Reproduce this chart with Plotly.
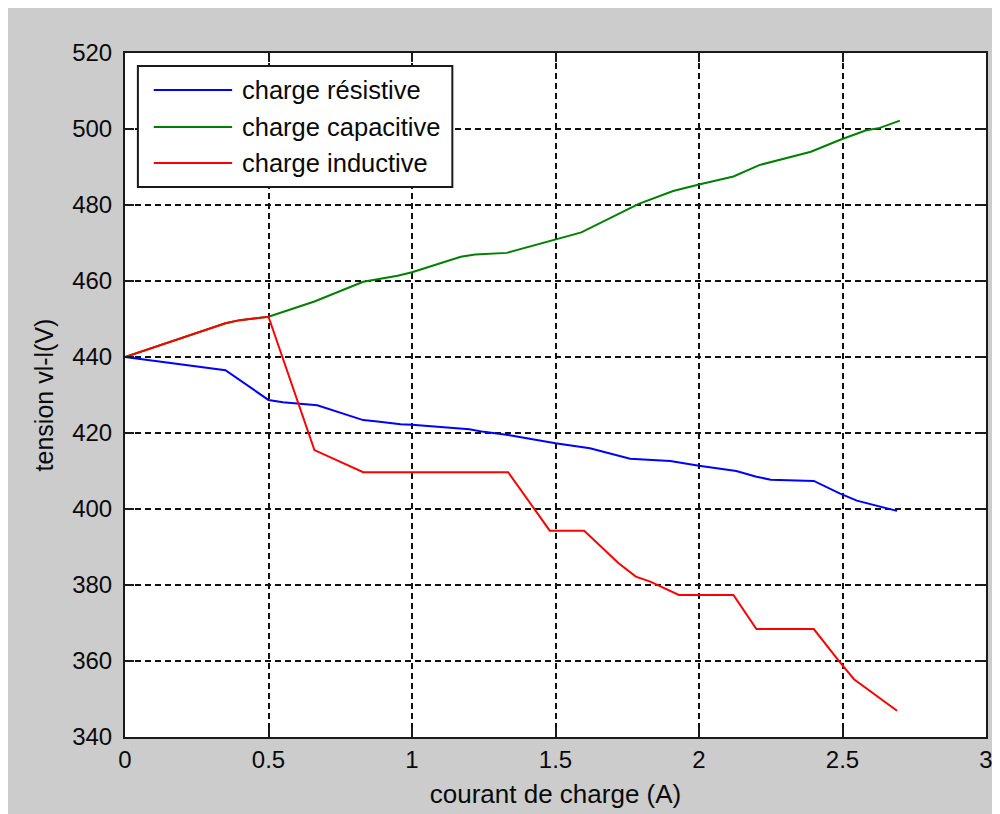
import plotly.graph_objects as go

# ---- data ----
series_names = ["charge résistive", "charge capacitive", "charge inductive"]
series_colors = ["#0000ff", "#008000", "#ff0000"]

x_res = [0, 0.35, 0.5, 0.55, 0.67, 0.83, 0.88, 0.96, 1.0, 1.09, 1.2, 1.25, 1.35, 1.5,
         1.62, 1.76, 1.9, 2.0, 2.13, 2.2, 2.25, 2.4, 2.49, 2.55, 2.63, 2.69]
v_res = [440, 436.5, 428.7, 428.1, 427.3, 423.4, 423.0, 422.3, 422.2, 421.7, 421.0, 420.3,
         419.3, 417.3, 416.0, 413.2, 412.6, 411.4, 410.0, 408.5, 407.7, 407.4, 404.1,
         402.2, 400.6, 399.5]

x_cap = [0, 0.35, 0.4, 0.5, 0.66, 0.83, 0.95, 1.0, 1.17, 1.22, 1.33, 1.5, 1.59, 1.79,
         1.91, 2.0, 2.12, 2.21, 2.39, 2.49, 2.58, 2.63, 2.7]
v_cap = [440, 448.9, 449.7, 450.6, 454.6, 459.8, 461.4, 462.3, 466.4, 467.0, 467.4,
         471.0, 472.8, 480.3, 483.7, 485.4, 487.5, 490.5, 494.0, 497.1, 499.6, 500.3, 502.2]

x_ind = [0, 0.35, 0.4, 0.5, 0.66, 0.83, 1.335, 1.48, 1.6, 1.72, 1.78, 1.83, 1.93,
         2.12, 2.2, 2.4, 2.49, 2.54, 2.69]
v_ind = [440, 448.9, 449.7, 450.6, 415.5, 409.7, 409.7, 394.3, 394.3, 385.7, 382.2,
         380.9, 377.4, 377.4, 368.4, 368.4, 359.8, 355.2, 346.9]

x_ticks = [0, 0.5, 1, 1.5, 2, 2.5, 3]
x_tick_labels = ["0", "0.5", "1", "1.5", "2", "2.5", "3"]
y_ticks = [340, 360, 380, 400, 420, 440, 460, 480, 500, 520]

x_title = "courant de charge (A)"
y_title = "tension vl-l(V)"

# ---- layout geometry (figure pixels; page has an 8px body margin) ----
OFF = 8
W, H = 992, 806
L, R, T, B = 117, 7, 45, 77
PW, PH = W - L - R, H - T - B


def px(xpage):
    return (xpage - OFF - L) / PW


def py(ypage):
    return (H - B - (ypage - OFF)) / PH


FONT = "Liberation Sans, Arial, sans-serif"
INK = "#1a1a1a"
TXT = "#0a0a0a"

fig = go.Figure()
for xs, ys, name, col in zip([x_res, x_cap, x_ind], [v_res, v_cap, v_ind],
                             series_names, series_colors):
    fig.add_trace(go.Scatter(x=xs, y=ys, mode="lines", name=name,
                             line=dict(color=col, width=2), showlegend=False))

axis_common = dict(
    showline=True, linecolor=INK, linewidth=2, mirror="ticks",
    ticks="inside", ticklen=9, tickwidth=1.5, tickcolor=INK,
    showgrid=True, gridcolor="#111111", gridwidth=1.5, griddash="6px,4px",
    zeroline=False, tickfont=dict(family=FONT, size=24, color=TXT),
)

fig.update_xaxes(range=[0, 3], tickvals=x_ticks, ticktext=x_tick_labels,
                 title=dict(text=x_title, font=dict(family=FONT, size=26, color=TXT),
                            standoff=13),
                 **axis_common)
fig.update_yaxes(range=[340, 520], tickvals=y_ticks,
                 title=dict(text=y_title, font=dict(family=FONT, size=25, color=TXT),
                            standoff=11),
                 ticklabelstandoff=6,
                 **axis_common)

shapes = []
# legend box
shapes.append(dict(type="rect", xref="paper", yref="paper", x0=px(138), x1=px(455),
                   y0=py(187), y1=py(66), fillcolor="white",
                   line=dict(color=INK, width=2), layer="above"))

annotations = []
rows = [90, 127, 163]
for name, col, yr in zip(series_names, series_colors, rows):
    shapes.append(dict(type="line", xref="paper", yref="paper", x0=px(154), x1=px(233),
                       y0=py(yr), y1=py(yr), line=dict(color=col, width=2),
                       layer="above"))
    annotations.append(dict(xref="paper", yref="paper", x=px(241), y=py(yr),
                            xanchor="left", yanchor="middle", text=name,
                            showarrow=False,
                            font=dict(family=FONT, size=25.5, color=TXT)))

fig.update_layout(
    width=W, height=H,
    margin=dict(l=L, r=R, t=T, b=B),
    paper_bgcolor="#cccccc", plot_bgcolor="white",
    shapes=shapes, annotations=annotations,
    showlegend=False,
)

fig.write_html("out.html")
